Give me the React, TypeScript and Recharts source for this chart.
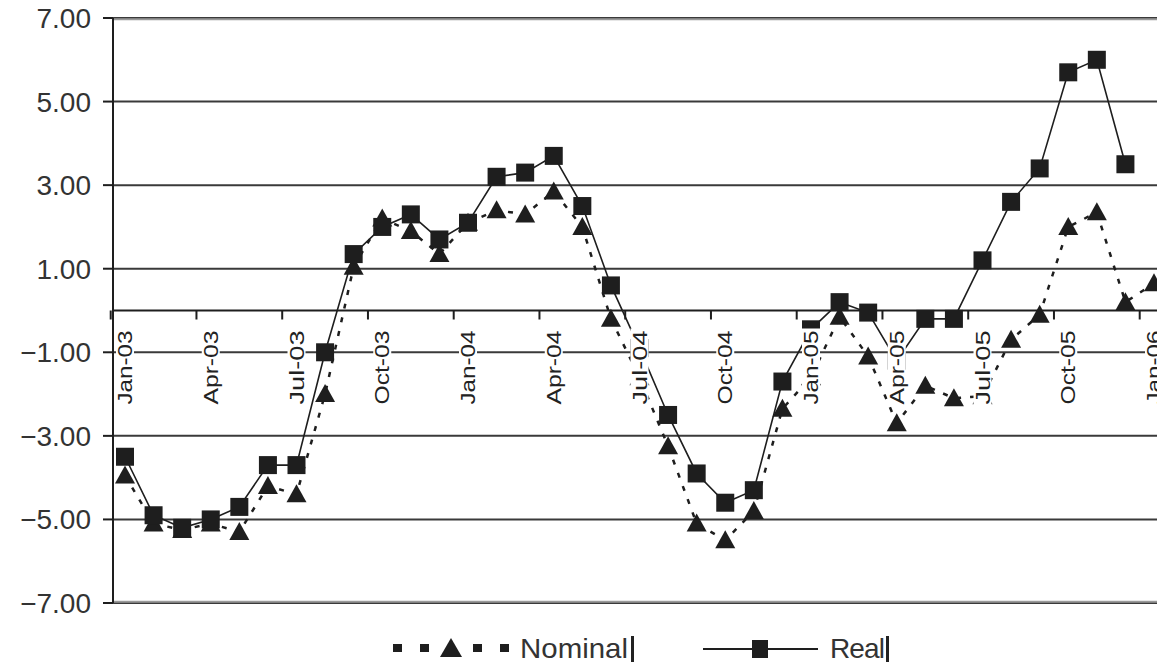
import { CartesianGrid, Legend, Line, LineChart, ReferenceLine, XAxis, YAxis } from "recharts";

const months = [
  "Jan-03", "Feb-03", "Mar-03", "Apr-03", "May-03", "Jun-03", "Jul-03", "Aug-03", "Sep-03", "Oct-03", "Nov-03", "Dec-03",
  "Jan-04", "Feb-04", "Mar-04", "Apr-04", "May-04", "Jun-04", "Jul-04", "Aug-04", "Sep-04", "Oct-04", "Nov-04", "Dec-04",
  "Jan-05", "Feb-05", "Mar-05", "Apr-05", "May-05", "Jun-05", "Jul-05", "Aug-05", "Sep-05", "Oct-05", "Nov-05", "Dec-05",
  "Jan-06"
];

const nominal = [
  -3.95, -5.1, -5.25, -5.1, -5.3, -4.2, -4.4, -2.0, 1.05, 2.2, 1.9, 1.35,
  2.1, 2.4, 2.3, 2.85, 2.0, -0.2, -1.6, -3.25, -5.1, -5.5, -4.8, -2.35,
  -1.6, -0.15, -1.1, -2.7, -1.8, -2.1, -2.05, -0.7, -0.1, 2.0, 2.35, 0.2,
  0.65
];

const real: (number | null)[] = [
  -3.5, -4.9, -5.2, -5.0, -4.7, -3.7, -3.7, -1.0, 1.35, 2.0, 2.3, 1.7,
  2.1, 3.2, 3.3, 3.7, 2.5, 0.6, -0.9, -2.5, -3.9, -4.6, -4.3, -1.7,
  -0.45, 0.2, -0.05, -1.2, -0.2, -0.2, 1.2, 2.6, 3.4, 5.7, 6.0, 3.5,
  null
];

const yTicks = [-7, -5, -3, -1, 1, 3, 5, 7];

const data = months.map((month, i) => ({ month, nominal: nominal[i], real: real[i] }));

const INK = "#1e1e1e";
const FONT = "'Liberation Sans', Arial, sans-serif";
const CHART_W = 1180;
const CHART_H = 666;
const X_AXIS_H = 30;
const MARGIN = { top: 18, right: 14, bottom: 63 - X_AXIS_H, left: 0 };
const Y_AXIS_W = 113;
const PAD = 12;
const PLOT_H = CHART_H - MARGIN.top - MARGIN.bottom - X_AXIS_H;
const ZERO_Y = MARGIN.top + PLOT_H / 2;
const STEP = (CHART_W - MARGIN.right - Y_AXIS_W - 2 * PAD) / (months.length - 1);

const fmt = (v: number) => (v < 0 ? "\u2212" + Math.abs(v).toFixed(2) : v.toFixed(2));

// month labels sit on the zero line, rotated, on a white box that hides the lines behind
function MonthTick(props: any) {
  const { x, payload } = props;
  const top = ZERO_Y + 20;
  const len = 74;
  return (
    <g>
      <line x1={x - STEP / 2} x2={x - STEP / 2} y1={ZERO_Y} y2={ZERO_Y + 9} stroke={INK} strokeWidth={2} />
      <rect x={x - 9} y={top - 2} width={18} height={len + 4} fill="#fff" />
      <text
        transform={`translate(${x + 7}, ${top}) rotate(-90)`}
        textAnchor="end"
        fontSize={20}
        fontFamily={FONT}
        fill="#222"
        textLength={len}
        lengthAdjust="spacingAndGlyphs"
      >
        {payload.value}
      </text>
    </g>
  );
}

function Triangle(props: any) {
  const { cx, cy, index } = props;
  if (cx == null || cy == null) return <g key={`t${index}`} />;
  return <polygon key={`t${index}`} points={`${cx},${cy - 10} ${cx + 10},${cy + 8} ${cx - 10},${cy + 8}`} fill={INK} />;
}

function Square(props: any) {
  const { cx, cy, index } = props;
  if (cx == null || cy == null) return <g key={`s${index}`} />;
  return <rect key={`s${index}`} x={cx - 9} y={cy - 9} width={18} height={18} fill={INK} />;
}

function LegendBox() {
  return (
    <svg width={1157} height={40} style={{ display: "block" }}>
      <g fill={INK}>
        <rect x={393} y={16} width={9} height={8} />
        <rect x={420} y={16} width={9} height={8} />
        <polygon points="451,10 462,29 440,29" />
        <rect x={473} y={16} width={9} height={8} />
        <rect x={500} y={16} width={9} height={8} />
      </g>
      <text x={520} y={30} fontSize={28} fontFamily={FONT} fill="#333" textLength={108} lengthAdjust="spacingAndGlyphs">
        Nominal
      </text>
      <rect x={631} y={8} width={3} height={26} fill="#222" />
      <line x1={703} x2={818} y1={21} y2={21} stroke={INK} strokeWidth={2} />
      <rect x={752} y={12} width={16} height={18} fill={INK} />
      <text x={830} y={30} fontSize={28} fontFamily={FONT} fill="#333" textLength={55}>
        Real
      </text>
      <rect x={886} y={8} width={3} height={26} fill="#222" />
    </svg>
  );
}

export default function App() {
  return (
    <div style={{ position: "fixed", left: 0, top: 0, width: 1157, height: 666, overflow: "hidden", background: "#fff" }}>
      <LineChart width={CHART_W} height={CHART_H} data={data} margin={MARGIN}>
        <CartesianGrid vertical={false} stroke="#3a3a3a" strokeWidth={2} />
        {/* light frame lines at top and bottom; exact +-7 gets dropped by rounding */}
        <ReferenceLine y={6.97} stroke="#9a9a9a" strokeWidth={2} />
        <ReferenceLine y={-6.97} stroke="#9a9a9a" strokeWidth={2} />
        <YAxis
          domain={[-7, 7]}
          ticks={yTicks}
          interval={0}
          width={Y_AXIS_W}
          tickSize={10}
          tickMargin={12}
          tickFormatter={fmt}
          tick={{ fontSize: 28, fill: "#333", fontFamily: FONT }}
          axisLine={{ stroke: INK, strokeWidth: 2 }}
          tickLine={{ stroke: INK, strokeWidth: 2 }}
        />
        <ReferenceLine y={0} stroke={INK} strokeWidth={2} />
        <Line
          dataKey="nominal"
          name="Nominal"
          stroke={INK}
          strokeWidth={2.5}
          strokeDasharray="5 9"
          dot={Triangle}
          activeDot={false}
          isAnimationActive={false}
        />
        <Line
          dataKey="real"
          name="Real"
          stroke={INK}
          strokeWidth={1.6}
          dot={Square}
          activeDot={false}
          isAnimationActive={false}
        />
        <XAxis
          dataKey="month"
          interval={2}
          height={X_AXIS_H}
          axisLine={false}
          tickLine={false}
          padding={{ left: PAD, right: PAD }}
          tick={(p: any) => <MonthTick {...p} />}
        />
        <Legend
          layout="horizontal"
          verticalAlign="middle"
          align="center"
          wrapperStyle={{ left: 0, top: 628, width: 1157, height: 40 }}
          content={() => <LegendBox />}
        />
      </LineChart>
    </div>
  );
}
